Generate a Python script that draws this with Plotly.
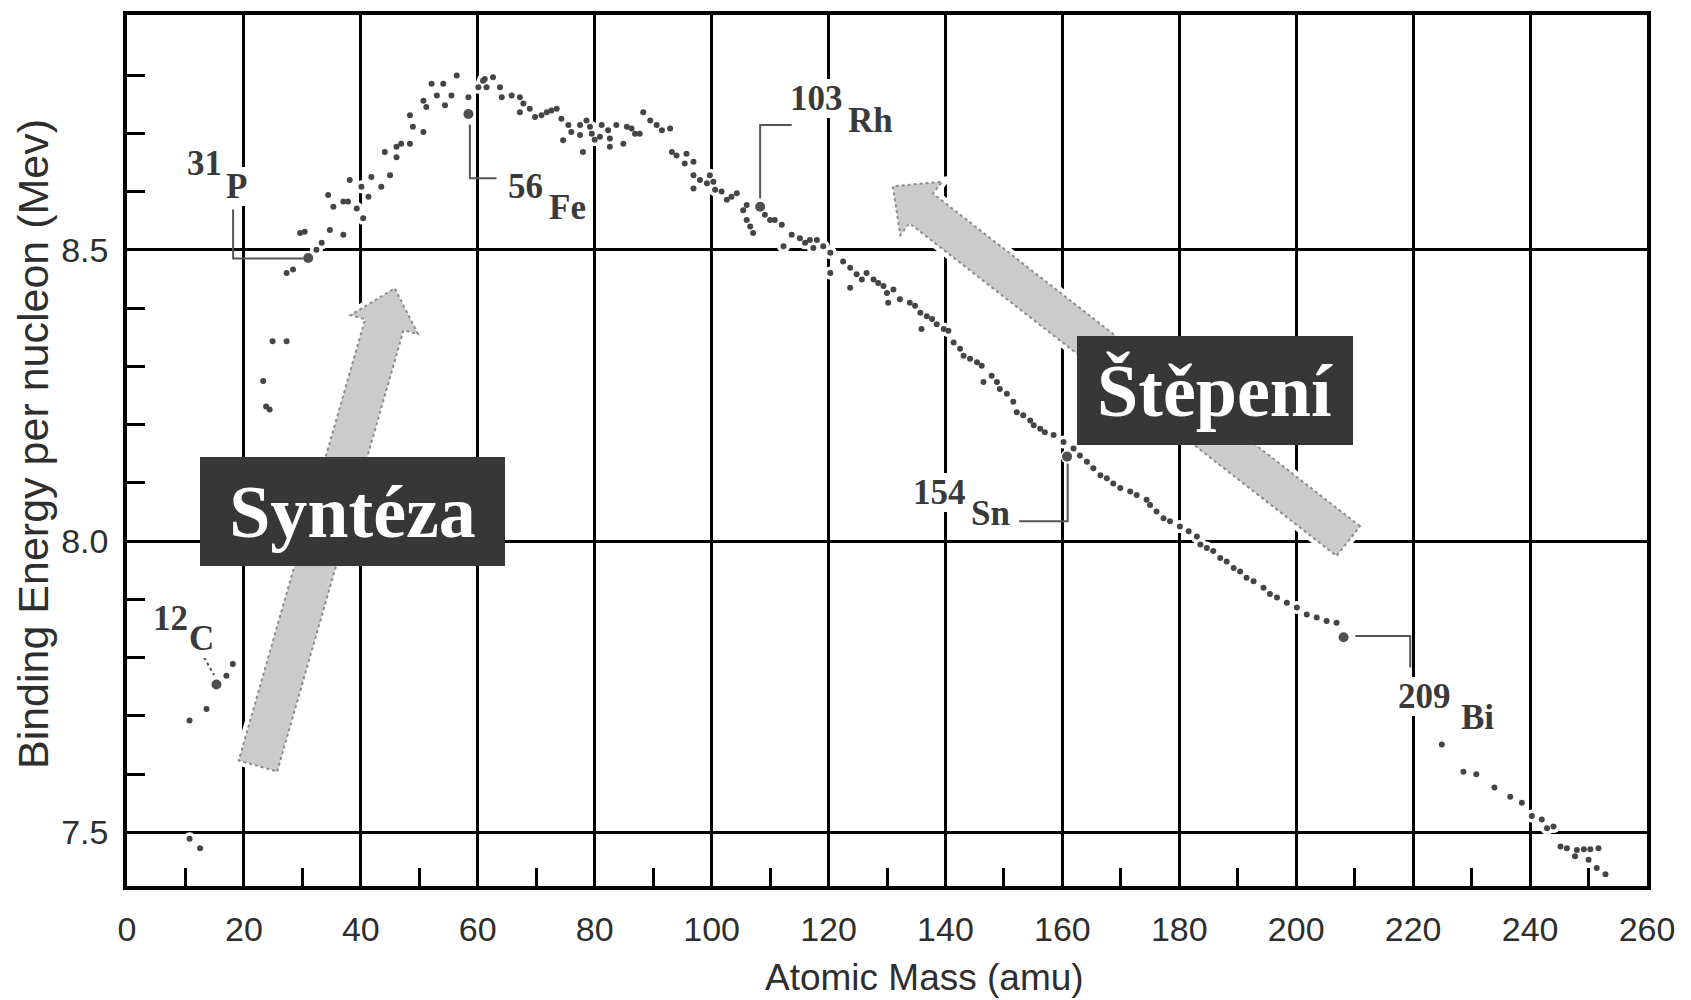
import math
import plotly.graph_objects as go

# ---------------- data ----------------
mass = [
    10.7, 12.5,
    10.7, 13.6, 17.0, 18.1,
    23.3, 23.8, 24.4, 24.9, 27.3,
    27.3, 28.4, 29.6, 30.4, 32.4, 33.3, 34.4, 34.7, 35.3, 37.0, 37.0, 37.8, 38.1,
    39.3, 40.1, 40.4, 41.3, 41.8, 43.5, 44.1, 45.0, 46.1, 46.1, 46.9, 48.4, 48.4,
    48.9, 50.7, 50.7, 51.2, 52.1, 53.0, 54.1, 54.4, 55.5, 56.4, 58.4, 60.1, 60.9,
    61.2, 61.5, 62.6, 63.8, 64.1, 65.8, 67.2, 67.2, 67.8, 68.9, 69.8, 70.9, 71.8,
    72.6, 73.5, 74.3, 74.6, 75.5, 76.0, 77.5, 77.5, 78.0, 78.6, 79.2, 79.5, 80.0,
    80.9, 81.2, 82.3, 82.6, 82.6, 83.7, 84.9, 85.5, 86.3, 86.9, 87.7, 88.3, 89.5,
    90.6, 91.5, 92.9, 93.2, 94.0, 95.4, 95.7, 96.9, 96.9, 96.9, 98.0, 99.2, 99.7,
    100.3, 100.6, 101.7, 102.6, 103.4, 104.3, 105.4, 106.0, 106.0, 106.6, 107.1,
    109.1, 110.0, 110.8, 112.0, 112.3, 113.7, 115.1, 116.0, 116.8, 117.4,
    118.0, 119.1, 120.3, 120.3, 122.5, 123.7, 123.7, 124.8, 125.7, 126.5, 127.7,
    128.5, 129.4, 130.0, 130.2, 131.1, 132.2, 133.9, 134.8, 135.7, 135.9, 136.8,
    137.7, 138.5, 139.7, 140.5, 141.4, 142.5, 143.1, 144.2, 145.4, 146.2, 146.5,
    147.9, 148.8, 149.3, 150.5, 151.6, 152.2, 153.3, 154.5, 155.1, 156.2, 157.0,
    158.5, 160.2, 161.9, 163.0, 164.2, 165.3, 166.5, 167.6, 168.7, 169.9, 171.6,
    172.7, 174.4,
    175.0, 176.1, 177.3, 178.4, 180.1, 181.6, 183.0, 183.6, 184.7, 185.8, 187.0,
    188.1, 189.3, 190.4, 191.5, 192.7, 194.4, 195.5, 196.7, 198.4, 200.1, 201.8,
    203.5, 205.2, 206.9,
    224.9, 228.6, 230.8, 233.9, 236.6, 238.6, 240.3, 242.0, 242.9, 244.0, 245.2,
    246.3, 247.7, 248.0, 249.2, 250.0, 250.3, 251.4, 251.7, 252.9,
]
binding_energy = [
    7.489, 7.473,
    7.692, 7.712, 7.769, 7.789,
    8.275, 8.231, 8.226, 8.343, 8.343,
    8.460, 8.466, 8.529, 8.531, 8.500, 8.512, 8.594, 8.534, 8.574, 8.583, 8.526, 8.583, 8.620,
    8.571, 8.608, 8.554, 8.591, 8.625, 8.608, 8.668, 8.628, 8.659, 8.677, 8.682, 8.682, 8.731,
    8.711, 8.702, 8.756, 8.745, 8.785, 8.765, 8.785, 8.748, 8.765, 8.799, 8.762, 8.779, 8.790,
    8.793, 8.779, 8.796, 8.779, 8.762, 8.765, 8.762, 8.736, 8.751, 8.742, 8.728, 8.731, 8.736,
    8.739, 8.742, 8.725, 8.688, 8.714, 8.702, 8.714, 8.697, 8.668, 8.722, 8.711, 8.699, 8.689,
    8.694, 8.714, 8.705, 8.691, 8.677, 8.714, 8.682, 8.711, 8.708, 8.699, 8.699, 8.736, 8.722,
    8.714, 8.705, 8.708, 8.668, 8.662, 8.648, 8.665, 8.651, 8.628, 8.605, 8.620, 8.614, 8.628,
    8.617, 8.603, 8.600, 8.586, 8.591, 8.597, 8.568, 8.577, 8.551, 8.540, 8.529,
    8.560, 8.551, 8.551, 8.543, 8.506, 8.526, 8.520, 8.512, 8.517, 8.503,
    8.517, 8.506, 8.495, 8.460, 8.480, 8.469, 8.435, 8.458, 8.449, 8.460, 8.449,
    8.443, 8.438, 8.426, 8.409, 8.432, 8.415, 8.409, 8.404, 8.392, 8.364, 8.386,
    8.381, 8.372, 8.364, 8.361, 8.341, 8.330, 8.318, 8.313, 8.307, 8.301, 8.273,
    8.284, 8.273, 8.261, 8.253, 8.239, 8.221, 8.216, 8.207, 8.199, 8.193, 8.187,
    8.182, 8.170, 8.159, 8.147, 8.136, 8.125, 8.113, 8.108, 8.099, 8.091, 8.085,
    8.079, 8.071,
    8.062, 8.051, 8.039, 8.034, 8.025, 8.017, 8.008, 7.994, 7.988, 7.983, 7.971,
    7.965, 7.954, 7.948, 7.937, 7.931, 7.920, 7.909, 7.903, 7.894, 7.886, 7.874,
    7.869, 7.863, 7.860,
    7.651, 7.604, 7.600, 7.577, 7.561, 7.551, 7.528, 7.522, 7.507, 7.510, 7.476,
    7.473, 7.459, 7.470, 7.471, 7.453, 7.471, 7.439, 7.473, 7.428,
]

# highlighted nuclides
nuclide_number = ["12", "31", "56", "103", "154", "209"]
nuclide_symbol = ["C", "P", "Fe", "Rh", "Sn", "Bi"]
nuclide_mass = [15.3, 31.0, 58.4, 108.3, 160.8, 208.1]
nuclide_be = [7.754, 8.486, 8.733, 8.574, 8.145, 7.835]

x_ticks = list(range(0, 261, 20))
y_ticks = [7.5, 8.0, 8.5]
x_title = "Atomic Mass (amu)"
y_title = "Binding Energy per nucleon (Mev)"
fusion_text = "Syntéza"
fission_text = "Štěpení"

# ---------------- layout geometry ----------------
W, H = 1691, 1000
ML, MR, MT, MB = 127, 44, 11, 114
PW, PH = W - ML - MR, H - MT - MB
XR = (0, 260)
YR = (7.408, 8.903)

def to_px(x, y):
    return (ML + (x - XR[0]) / (XR[1] - XR[0]) * PW,
            MT + (YR[1] - y) / (YR[1] - YR[0]) * PH)

def to_paper(px, py):
    return ((px - ML) / PW, 1 - (py - MT) / PH)

def arrow_path(tail, tip, shaft_w, head_w, head_len):
    tx, ty = to_px(*tail)
    px, py = to_px(*tip)
    dx, dy = px - tx, py - ty
    L = math.hypot(dx, dy)
    ux, uy = dx / L, dy / L
    nx, ny = -uy, ux
    bx, by = px - ux * head_len, py - uy * head_len
    pts = [
        (tx + nx * shaft_w / 2, ty + ny * shaft_w / 2),
        (bx + nx * shaft_w / 2, by + ny * shaft_w / 2),
        (bx + nx * head_w / 2, by + ny * head_w / 2),
        (px, py),
        (bx - nx * head_w / 2, by - ny * head_w / 2),
        (bx - nx * shaft_w / 2, by - ny * shaft_w / 2),
        (tx - nx * shaft_w / 2, ty - ny * shaft_w / 2),
    ]
    pp = [to_paper(a, b) for a, b in pts]
    return "M " + " L ".join(f"{a:.5f},{b:.5f}" for a, b in pp) + " Z"

# label placement (data coordinates): number centre, symbol centre, leader line
label_layout = [
    dict(num=(7.5, 7.867), sym=(12.7, 7.833), lead=[(13.2, 7.80), (14.9, 7.77)], dash="dot"),
    dict(num=(13.3, 8.648), sym=(18.7, 8.609), lead=[(18.15, 8.569), (18.15, 8.485), (30.2, 8.485)], dash="solid"),
    dict(num=(68.2, 8.609), sym=(75.4, 8.573), lead=[(58.65, 8.715), (58.65, 8.623), (63.2, 8.623)], dash="solid"),
    dict(num=(117.9, 8.759), sym=(127.1, 8.722), lead=[(108.3, 8.588), (108.3, 8.714), (113.7, 8.714)], dash="solid"),
    dict(num=(138.9, 8.084), sym=(147.7, 8.047), lead=[(160.9, 8.133), (160.9, 8.034), (152.6, 8.034)], dash="solid"),
    dict(num=(222.0, 7.734), sym=(231.0, 7.698), lead=[(210.1, 7.837), (219.5, 7.837), (219.5, 7.783)], dash="solid"),
]

fig = go.Figure()

# white halos that knock out the grid around the points
fig.add_trace(go.Scatter(
    x=mass + nuclide_mass, y=binding_energy + nuclide_be, mode="markers",
    marker=dict(size=13, color="white", line=dict(width=0)),
    hoverinfo="skip"))

# leader lines
for lab in label_layout:
    xs = [p[0] for p in lab["lead"]]
    ys = [p[1] for p in lab["lead"]]
    fig.add_trace(go.Scatter(x=xs, y=ys, mode="lines",
                             line=dict(color="#555555", width=2, dash=lab["dash"]),
                             hoverinfo="skip"))

# data dots
fig.add_trace(go.Scatter(
    x=mass, y=binding_energy, mode="markers",
    marker=dict(size=6, color="#454545", line=dict(width=0))))

# highlighted nuclides
fig.add_trace(go.Scatter(
    x=nuclide_mass, y=nuclide_be, mode="markers",
    marker=dict(size=10, color="#505050", line=dict(width=0))))

# nuclide labels
annotations = []
label_font = dict(family="Liberation Serif, Times New Roman, serif", size=35, color="#3a3a3a")
for lab, num, sym in zip(label_layout, nuclide_number, nuclide_symbol):
    annotations.append(dict(x=lab["num"][0], y=lab["num"][1], xref="x", yref="y",
                            text="<b>" + num + "</b>", showarrow=False, font=label_font,
                            bgcolor="white", borderpad=0, borderwidth=0,
                            xanchor="center", yanchor="middle"))
    annotations.append(dict(x=lab["sym"][0], y=lab["sym"][1], xref="x", yref="y",
                            text="<b>" + sym + "</b>", showarrow=False, font=label_font,
                            bgcolor="white", borderpad=0, borderwidth=0,
                            xanchor="center", yanchor="middle"))

# arrows
shapes = []
arrows = [
    dict(tail=(22.4, 7.614), tip=(45.8, 8.434), shaft=40, head=70, head_len=38),
    dict(tail=(208.9, 8.000), tip=(131.0, 8.609), shaft=38, head=68, head_len=36),
]
for a in arrows:
    path = arrow_path(a["tail"], a["tip"], a["shaft"], a["head"], a["head_len"])
    shapes.append(dict(type="path", path=path, xref="paper", yref="paper",
                       fillcolor="white", line=dict(color="white", width=10), layer="above"))
    shapes.append(dict(type="path", path=path, xref="paper", yref="paper",
                       fillcolor="#cbcbcb", line=dict(color="#8c8c8c", width=2, dash="dot"),
                       layer="above"))

# big text boxes
box_font = dict(family="Liberation Serif, Times New Roman, serif", size=74, color="white")
fx, fy = to_paper(352, 509.5)
annotations.append(dict(x=fx, y=fy, xref="paper", yref="paper", text="<b>" + fusion_text + "</b>",
                        showarrow=False, font=box_font, bgcolor="#373737", borderpad=0,
                        borderwidth=0, width=305, height=109, align="center", valign="middle",
                        xanchor="center", yanchor="middle"))
sx, sy = to_paper(1215, 388.5)
annotations.append(dict(x=sx, y=sy, xref="paper", yref="paper", text="<b>" + fission_text + "</b>",
                        showarrow=False, font=box_font, bgcolor="#373737", borderpad=0,
                        borderwidth=0, width=276, height=109, align="center", valign="middle",
                        xanchor="center", yanchor="middle"))

# axis titles
axis_font = dict(family="Liberation Sans, Arial, sans-serif", size=37, color="#2e2e2e")
tx_, ty_ = to_paper(924, 978)
annotations.append(dict(x=tx_, y=ty_, xref="paper", yref="paper", text=x_title, showarrow=False,
                        font=axis_font, xanchor="center", yanchor="middle"))
yx_, yy_ = to_paper(33, 442)
annotations.append(dict(x=yx_, y=yy_, xref="paper", yref="paper", text=y_title, showarrow=False,
                        font=dict(family="Liberation Sans, Arial, sans-serif", size=43, color="#2e2e2e"),
                        textangle=-90, xanchor="center", yanchor="middle"))

tick_font = dict(family="Liberation Sans, Arial, sans-serif", size=34, color="#2e2e2e")

fig.update_layout(
    width=W, height=H,
    margin=dict(l=ML, r=MR, t=MT, b=MB),
    plot_bgcolor="white", paper_bgcolor="white",
    showlegend=False,
    annotations=annotations,
    shapes=shapes,
    xaxis=dict(range=list(XR), tickvals=x_ticks, ticktext=[str(v) for v in x_ticks],
               showgrid=True, gridcolor="black", gridwidth=3,
               showline=True, linecolor="black", linewidth=3.5, mirror=True,
               ticks="", tickfont=tick_font, ticklabelstandoff=10, zeroline=False,
               minor=dict(ticks="inside", ticklen=18, tickwidth=3, tickcolor="black",
                          tickvals=list(range(10, 260, 20)), showgrid=False)),
    yaxis=dict(range=list(YR), tickvals=y_ticks, ticktext=["7.5", "8.0", "8.5"],
               showgrid=True, gridcolor="black", gridwidth=3,
               showline=True, linecolor="black", linewidth=3.5, mirror=True,
               ticks="", tickfont=tick_font, ticklabelstandoff=8, zeroline=False,
               minor=dict(ticks="inside", ticklen=18, tickwidth=3, tickcolor="black",
                          tickvals=[7.6, 7.7, 7.8, 7.9, 8.1, 8.2, 8.3, 8.4, 8.6, 8.7, 8.8],
                          showgrid=False)),
)

fig.write_html("out.html", config={"displayModeBar": False},
               post_script="document.body.style.margin='0px';document.body.style.overflow='hidden';")
